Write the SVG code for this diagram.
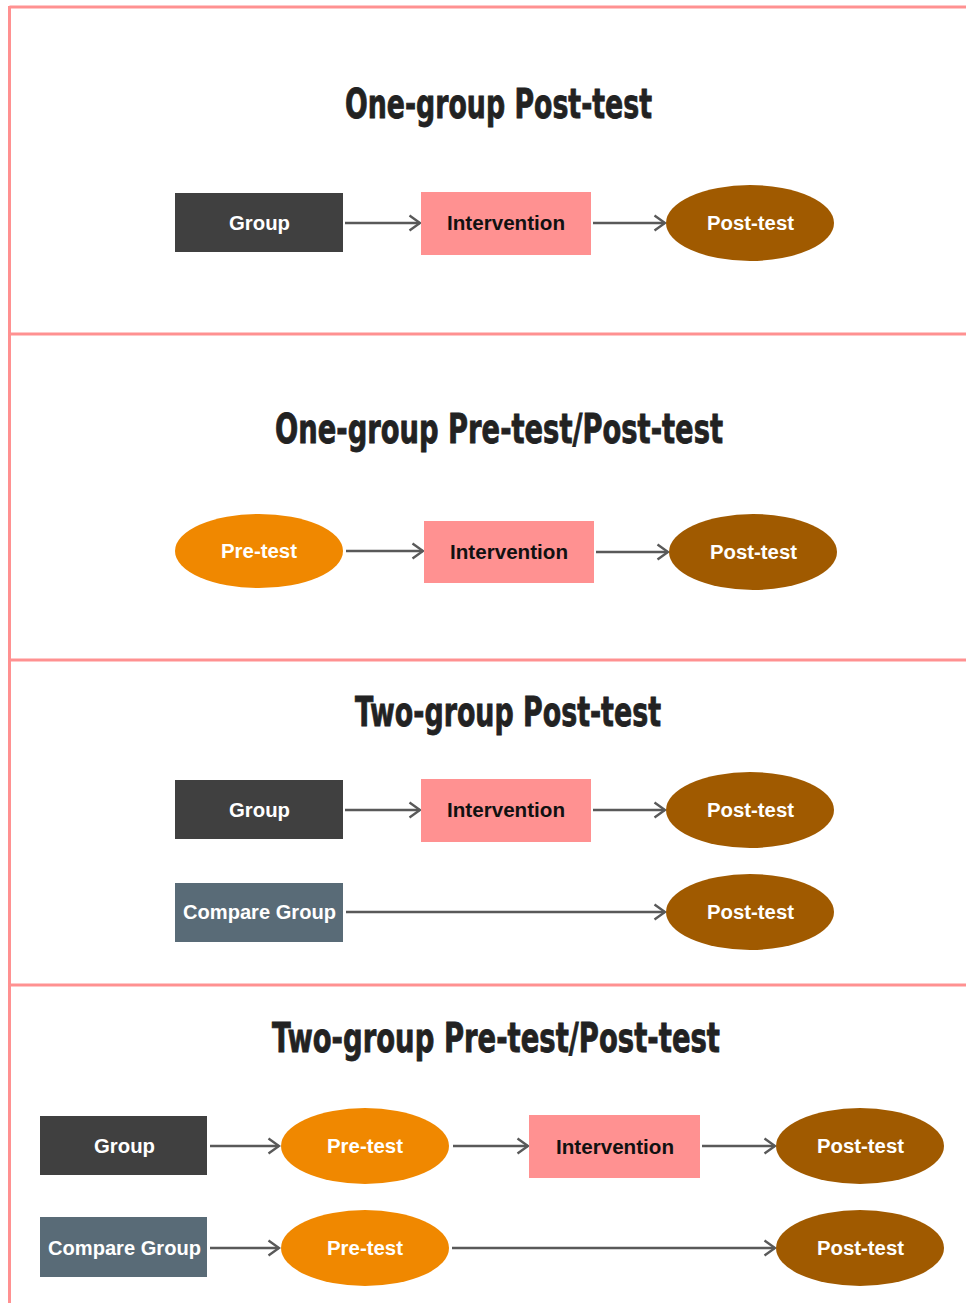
<svg xmlns="http://www.w3.org/2000/svg" width="966" height="1303" viewBox="0 0 966 1303">
  <style>
    .frame { fill: none; stroke: #ff9191; stroke-width: 3; }
    .title { font-family: "DejaVu Sans Condensed", "DejaVu Sans", sans-serif; font-weight: bold; font-size: 40px; fill: #222222; stroke: #222222; stroke-width: 0.8; text-anchor: start; }
    .lbl { font-family: "Liberation Sans", Arial, sans-serif; font-weight: bold; font-size: 20px; text-anchor: start; }
    .light { fill: #ffffff; }
    .dark { fill: #111111; }
    .grp { fill: #404040; }
    .cmp { fill: #596b77; }
    .intv { fill: #ff9191; }
    .pre { fill: #f08800; }
    .post { fill: #a05a00; }
    .conn { stroke: #595959; stroke-width: 2.4; fill: none; marker-end: url(#chev); }
  </style>
  <defs>
    <marker id="chev" viewBox="0 0 14 18" refX="12.5" refY="9" markerWidth="14" markerHeight="18" markerUnits="userSpaceOnUse" orient="auto">
      <path d="M2,1.5 L12.5,9 L2,16.5" fill="none" stroke="#595959" stroke-width="2.4"/>
    </marker>
  </defs>
  <rect width="966" height="1303" fill="#ffffff"/>

  <!-- section frame -->
  <g id="frame">
    <line class="frame" x1="9.5" y1="7" x2="966" y2="7"/>
    <line class="frame" x1="9.5" y1="6" x2="9.5" y2="1303"/>
    <line class="frame" x1="9.5" y1="334" x2="966" y2="334"/>
    <line class="frame" x1="9.5" y1="660" x2="966" y2="660"/>
    <line class="frame" x1="9.5" y1="985" x2="966" y2="985"/>
  </g>

  <!-- titles -->
  <g id="titles">
    <text class="title" x="345" y="118" textLength="307" lengthAdjust="spacingAndGlyphs">One-group Post-test</text>
    <text class="title" x="275" y="443" textLength="448" lengthAdjust="spacingAndGlyphs">One-group Pre-test/Post-test</text>
    <text class="title" x="355" y="726" textLength="306" lengthAdjust="spacingAndGlyphs">Two-group Post-test</text>
    <text class="title" x="272" y="1052" textLength="448" lengthAdjust="spacingAndGlyphs">Two-group Pre-test/Post-test</text>
  </g>

  <!-- connectors -->
  <g id="connectors">
    <line class="conn" x1="345" y1="223" x2="420" y2="223"/>
    <line class="conn" x1="593" y1="223" x2="665" y2="223"/>
    <line class="conn" x1="346" y1="551" x2="423" y2="551"/>
    <line class="conn" x1="596" y1="552" x2="668" y2="552"/>
    <line class="conn" x1="345" y1="810" x2="420" y2="810"/>
    <line class="conn" x1="593" y1="810" x2="665" y2="810"/>
    <line class="conn" x1="346" y1="912" x2="665" y2="912"/>
    <line class="conn" x1="210" y1="1146" x2="279" y2="1146"/>
    <line class="conn" x1="453" y1="1146" x2="528" y2="1146"/>
    <line class="conn" x1="702" y1="1146" x2="775" y2="1146"/>
    <line class="conn" x1="210" y1="1248" x2="279" y2="1248"/>
    <line class="conn" x1="452" y1="1248" x2="775" y2="1248"/>
  </g>

  <!-- One-group Post-test -->
  <g id="s1-group"><rect class="grp" x="175" y="193" width="168" height="59"/><text class="lbl light" x="229" y="230" textLength="61" lengthAdjust="spacingAndGlyphs">Group</text></g>
  <g id="s1-intervention"><rect class="intv" x="421" y="192" width="170" height="63"/><text class="lbl dark" x="447" y="230" textLength="118" lengthAdjust="spacingAndGlyphs">Intervention</text></g>
  <g id="s1-posttest"><ellipse class="post" cx="750" cy="223" rx="84" ry="38"/><text class="lbl light" x="707" y="230" textLength="87" lengthAdjust="spacingAndGlyphs">Post-test</text></g>

  <!-- One-group Pre-test/Post-test -->
  <g id="s2-pretest"><ellipse class="pre" cx="259" cy="551" rx="84" ry="37"/><text class="lbl light" x="221" y="558" textLength="76" lengthAdjust="spacingAndGlyphs">Pre-test</text></g>
  <g id="s2-intervention"><rect class="intv" x="424" y="521" width="170" height="62"/><text class="lbl dark" x="450" y="559" textLength="118" lengthAdjust="spacingAndGlyphs">Intervention</text></g>
  <g id="s2-posttest"><ellipse class="post" cx="753" cy="552" rx="84" ry="38"/><text class="lbl light" x="710" y="559" textLength="87" lengthAdjust="spacingAndGlyphs">Post-test</text></g>

  <!-- Two-group Post-test -->
  <g id="s3-group"><rect class="grp" x="175" y="780" width="168" height="59"/><text class="lbl light" x="229" y="817" textLength="61" lengthAdjust="spacingAndGlyphs">Group</text></g>
  <g id="s3-intervention"><rect class="intv" x="421" y="779" width="170" height="63"/><text class="lbl dark" x="447" y="817" textLength="118" lengthAdjust="spacingAndGlyphs">Intervention</text></g>
  <g id="s3-posttest"><ellipse class="post" cx="750" cy="810" rx="84" ry="38"/><text class="lbl light" x="707" y="817" textLength="87" lengthAdjust="spacingAndGlyphs">Post-test</text></g>
  <g id="s3-compare"><rect class="cmp" x="175" y="883" width="168" height="59"/><text class="lbl light" x="183" y="919" textLength="153" lengthAdjust="spacingAndGlyphs">Compare Group</text></g>
  <g id="s3-compare-posttest"><ellipse class="post" cx="750" cy="912" rx="84" ry="38"/><text class="lbl light" x="707" y="919" textLength="87" lengthAdjust="spacingAndGlyphs">Post-test</text></g>

  <!-- Two-group Pre-test/Post-test -->
  <g id="s4-group"><rect class="grp" x="40" y="1116" width="167" height="59"/><text class="lbl light" x="94" y="1153" textLength="61" lengthAdjust="spacingAndGlyphs">Group</text></g>
  <g id="s4-pretest"><ellipse class="pre" cx="365" cy="1146" rx="84" ry="38"/><text class="lbl light" x="327" y="1153" textLength="76" lengthAdjust="spacingAndGlyphs">Pre-test</text></g>
  <g id="s4-intervention"><rect class="intv" x="529" y="1115" width="171" height="63"/><text class="lbl dark" x="556" y="1154" textLength="118" lengthAdjust="spacingAndGlyphs">Intervention</text></g>
  <g id="s4-posttest"><ellipse class="post" cx="860" cy="1146" rx="84" ry="38"/><text class="lbl light" x="817" y="1153" textLength="87" lengthAdjust="spacingAndGlyphs">Post-test</text></g>
  <g id="s4-compare"><rect class="cmp" x="40" y="1217" width="167" height="60"/><text class="lbl light" x="48" y="1255" textLength="153" lengthAdjust="spacingAndGlyphs">Compare Group</text></g>
  <g id="s4-compare-pretest"><ellipse class="pre" cx="365" cy="1248" rx="84" ry="38"/><text class="lbl light" x="327" y="1255" textLength="76" lengthAdjust="spacingAndGlyphs">Pre-test</text></g>
  <g id="s4-compare-posttest"><ellipse class="post" cx="860" cy="1248" rx="84" ry="38"/><text class="lbl light" x="817" y="1255" textLength="87" lengthAdjust="spacingAndGlyphs">Post-test</text></g>
</svg>
